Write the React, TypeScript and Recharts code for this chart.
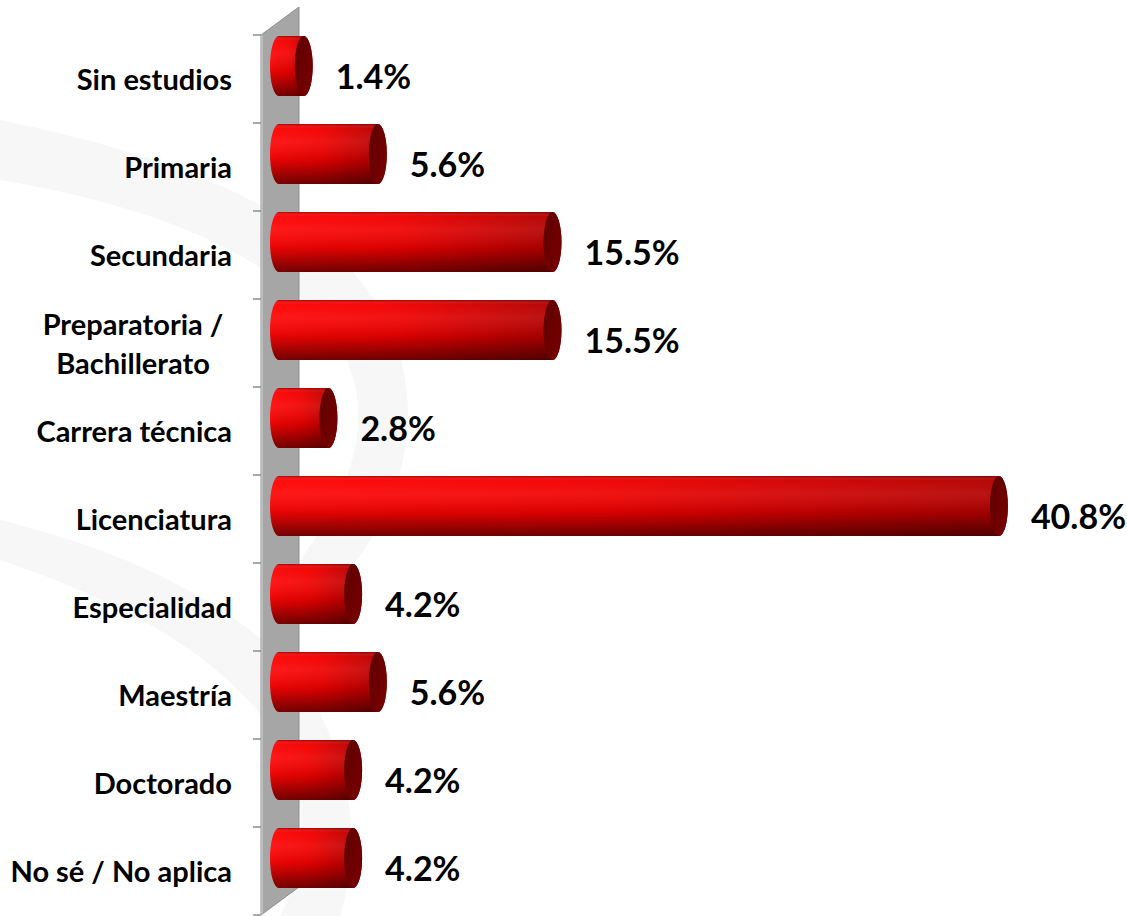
import { BarChart, Bar, XAxis, YAxis, LabelList } from 'recharts';

const categories = [
  'Sin estudios',
  'Primaria',
  'Secundaria',
  'Preparatoria / Bachillerato',
  'Carrera técnica',
  'Licenciatura',
  'Especialidad',
  'Maestría',
  'Doctorado',
  'No sé / No aplica',
];

const percentages = [1.4, 5.6, 15.5, 15.5, 2.8, 40.8, 4.2, 5.6, 4.2, 4.2];

const tickLines: Record<string, string[]> = {
  'Preparatoria / Bachillerato': ['Preparatoria /', 'Bachillerato'],
};

const data = categories.map((name, i) => ({ name, value: percentages[i] }));

const W = 1127;
const H = 916;
const MARGIN = { top: 35, right: 54, bottom: 1, left: 0 };
const AXIS_W = 279;
const FONT = 'Lato, "Open Sans", sans-serif';
const LIFT = 13; // bars sit a little above the band center (3d floor)

// cylinder-like bar
const Cylinder = (props: any) => {
  const { x, y, width, height } = props;
  const top = y - LIFT;
  const ry = height / 2;
  const rx = 9;
  const path = `M${x},${top} L${x + width},${top} A${rx},${ry} 0 0 1 ${x + width},${top + height} L${x},${top + height} A${rx},${ry} 0 0 1 ${x},${top} Z`;
  return (
    <g>
      <path d={path} fill="url(#bodyH)" />
      <path d={path} fill="url(#bodyV)" />
      <ellipse cx={x + width} cy={top + ry} rx={rx} ry={ry} fill="url(#cap)" />
    </g>
  );
};

const CategoryTick = (props: any) => {
  const { y, payload } = props;
  const lines = tickLines[payload.value];
  if (lines) {
    return (
      <text x={133} y={y} textAnchor="middle" fontFamily={FONT} fontWeight={700} fontSize={29} fill="#000">
        {lines.map((l, i) => (
          <tspan key={l} x={133} dy={i === 0 ? -8 : 39}>
            {l}
          </tspan>
        ))}
      </text>
    );
  }
  return (
    <text x={232} y={y + 11} textAnchor="end" fontFamily={FONT} fontWeight={700} fontSize={29} fill="#000">
      {payload.value}
    </text>
  );
};

const ValueLabel = (props: any) => {
  const { x, y, width, height, value } = props;
  return (
    <text
      x={x + width + 32}
      y={y + height / 2 + 10}
      fontFamily={FONT}
      fontWeight={700}
      fontSize={34}
      fill="#000"
    >
      {`${value.toFixed(1)}%`}
    </text>
  );
};

// grey back wall with category separators, placed from the chart margins
function Wall() {
  const top = MARGIN.top;
  const bottom = H - MARGIN.bottom;
  const left = MARGIN.left + AXIS_W - 18;
  const depthX = 38;
  const depthY = 28;
  const step = (bottom - top) / categories.length;
  return (
    <g>
      <polygon
        points={`${left},${top} ${left + depthX},${top - depthY} ${left + depthX},${bottom - depthY} ${left},${bottom}`}
        fill="#a6a6a6"
        stroke="#8f8f8f"
        strokeWidth={1}
      />
      <line x1={left + 1} y1={top} x2={left + 1} y2={bottom} stroke="#c4c4c4" strokeWidth={1.5} />
      {Array.from({ length: categories.length + 1 }, (_, i) => (
        <line key={i} x1={left - 8} y1={top + i * step} x2={left} y2={top + i * step} stroke="#8c8c8c" strokeWidth={1.5} />
      ))}
    </g>
  );
}

export default function App() {
  return (
    <div style={{ position: 'absolute', left: 0, top: 0, width: W, height: H, background: '#fff' }}>
      <svg width={W} height={H} style={{ position: 'absolute', left: 0, top: 0 }}>
        <path d="M0,180 C120,200 260,240 330,330 C380,400 360,480 300,560 L300,620 C420,520 440,380 360,280 C290,200 150,150 0,120 Z" fill="#f7f7f7" />
        <path d="M0,560 C120,600 240,660 290,760 C310,820 300,880 280,916 L340,916 C370,820 340,700 250,630 C170,570 80,540 0,520 Z" fill="#f7f7f7" />
        <Wall />
      </svg>
      <BarChart
        width={W}
        height={H}
        data={data}
        layout="vertical"
        margin={MARGIN}
        barSize={60}
        style={{ position: 'absolute', left: 0, top: 0 }}
      >
        <defs>
          <linearGradient id="bodyH" x1="0" y1="0" x2="1" y2="0">
            <stop offset="0%" stopColor="#ff0505" />
            <stop offset="45%" stopColor="#f00000" />
            <stop offset="100%" stopColor="#b00000" />
          </linearGradient>
          <linearGradient id="bodyV" x1="0" y1="0" x2="0" y2="1">
            <stop offset="0%" stopColor="#000" stopOpacity={0.3} />
            <stop offset="7%" stopColor="#fff" stopOpacity={0.03} />
            <stop offset="30%" stopColor="#fff" stopOpacity={0.08} />
            <stop offset="60%" stopColor="#000" stopOpacity={0.1} />
            <stop offset="100%" stopColor="#000" stopOpacity={0.55} />
          </linearGradient>
          <linearGradient id="cap" x1="0" y1="0" x2="1" y2="1">
            <stop offset="0%" stopColor="#5e0000" />
            <stop offset="100%" stopColor="#7a0000" />
          </linearGradient>
        </defs>
        <XAxis type="number" domain={[0, 45]} hide />
        <YAxis
          type="category"
          dataKey="name"
          width={AXIS_W}
          axisLine={false}
          tickLine={false}
          tick={<CategoryTick />}
          interval={0}
        />
        <Bar dataKey="value" shape={<Cylinder />} isAnimationActive={false}>
          <LabelList dataKey="value" content={<ValueLabel />} />
        </Bar>
      </BarChart>
    </div>
  );
}
